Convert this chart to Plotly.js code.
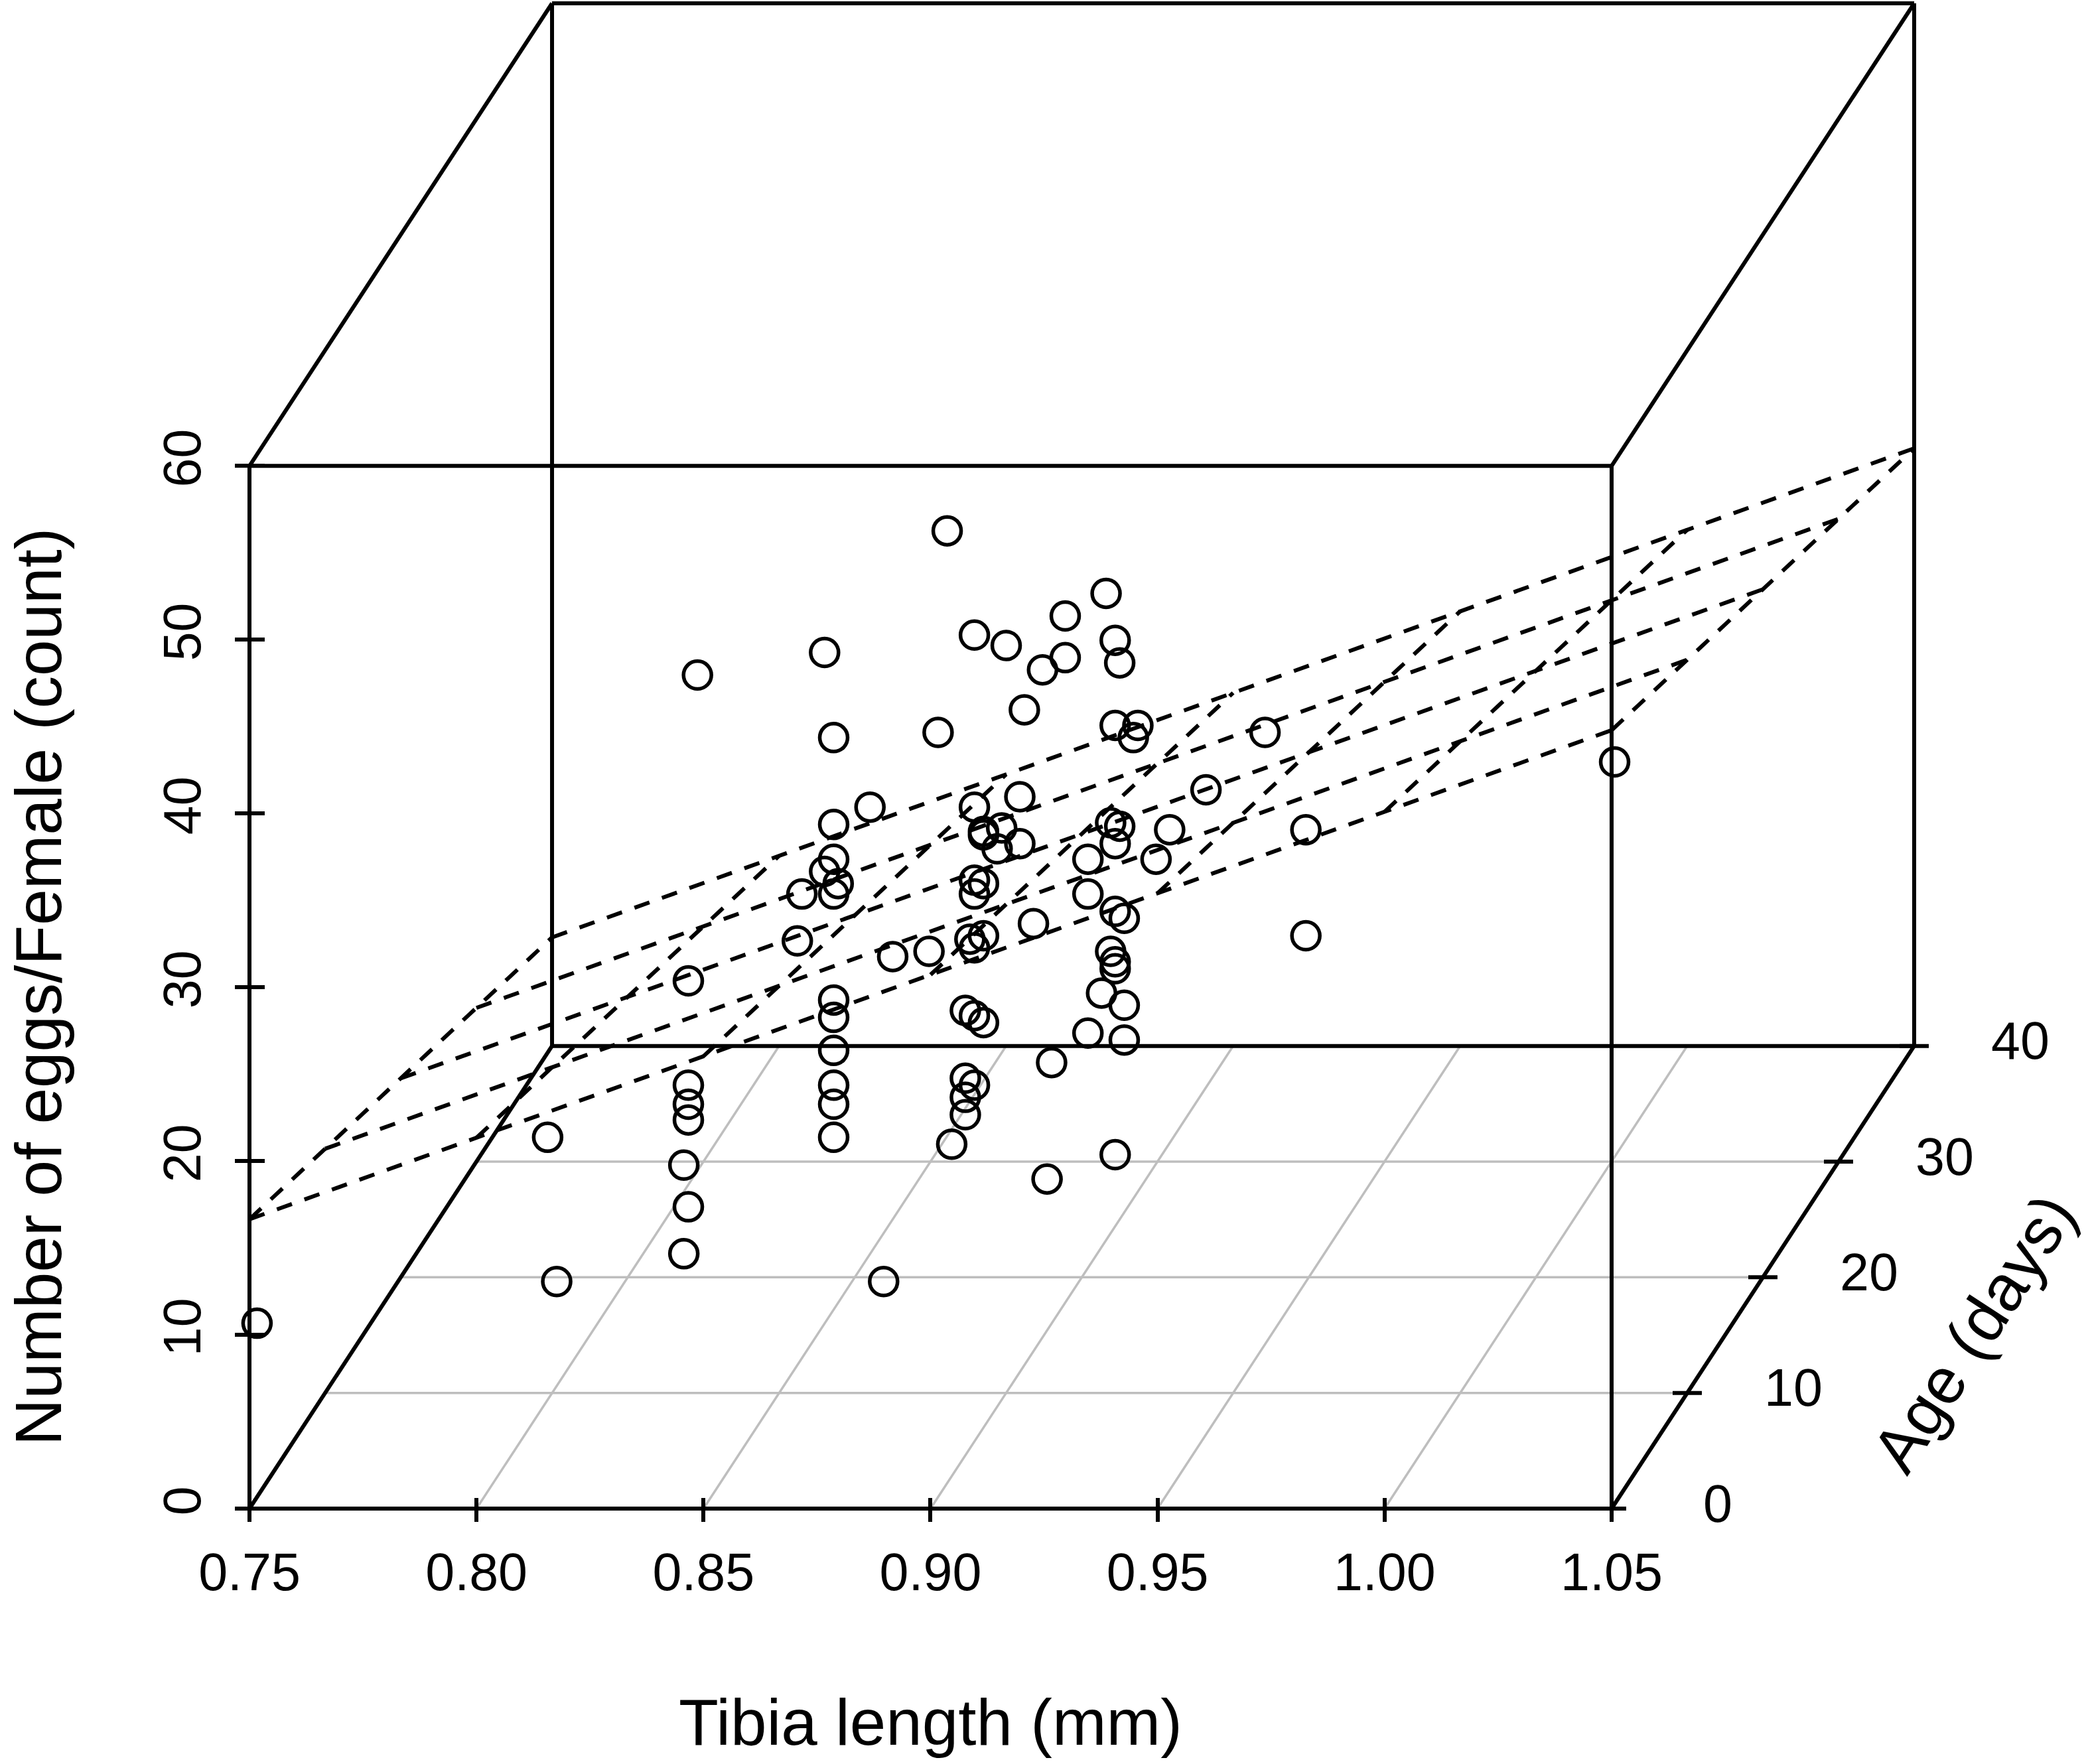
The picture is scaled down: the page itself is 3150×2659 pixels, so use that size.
<!DOCTYPE html>
<html>
<head>
<meta charset="utf-8">
<script src="https://cdn.plot.ly/plotly-3.0.1.min.js"></script>
<style>
html, body { margin: 0; padding: 0; background: #fff; }
#eggs-3d-viz { width: 3150px; height: 2659px; }
</style>
</head>
<body>
<div id="eggs-3d-viz"></div>
<script>
// Tibia length (mm) of each female
var tibia = [
	0.902, 0.937, 0.928, 0.908, 0.939, 0.915, 0.875, 0.928, 0.923, 0.940,
	0.847, 0.919, 0.939, 0.944, 0.943, 0.900, 0.877, 0.972, 1.049, 0.959,
	0.918, 0.885, 0.908, 0.877, 0.938, 0.940, 0.951, 0.981, 0.910, 0.914,
	0.918, 0.913, 0.910, 0.939, 0.933, 0.948, 0.877, 0.875, 0.878, 0.870,
	0.877, 0.908, 0.910, 0.908, 0.933, 0.939, 0.941, 0.921, 0.869, 0.910,
	0.907, 0.908, 0.898, 0.890, 0.938, 0.939, 0.939, 0.981, 0.845, 0.936,
	0.941, 0.877, 0.906, 0.908, 0.910, 0.877, 0.933, 0.941, 0.877, 0.925,
	0.906, 0.908, 0.845, 0.845, 0.845, 0.877, 0.877, 0.906, 0.906, 0.877,
	0.814, 0.903, 0.939, 0.844, 0.924, 0.845, 0.844, 0.816, 0.888, 0.750
];
// Age (days) of each female
var age = [
	1, 1, 1, 1, 1, 1, 1, 1, 1, 1,
	1, 1, 1, 1, 1, 1, 1, 1, 1, 1,
	1, 1, 1, 1, 1, 1, 1, 1, 1, 1,
	1, 1, 1, 1, 1, 1, 1, 1, 1, 1,
	1, 1, 1, 1, 1, 1, 1, 1, 1, 1,
	1, 1, 1, 1, 1, 1, 1, 1, 1, 1,
	1, 1, 1, 1, 1, 1, 1, 1, 1, 1,
	1, 1, 1, 1, 1, 1, 1, 1, 1, 1,
	1, 1, 1, 1, 1, 1, 1, 1, 1, 1
];
// Number of eggs per female
var eggs = [
	55.6, 52.0, 50.7, 49.6, 49.3, 49.0, 48.6, 48.3, 47.6, 48.0,
	47.3, 45.3, 44.4, 44.4, 43.7, 44.0, 43.7, 44.0, 42.3, 40.7,
	40.3, 39.7, 39.7, 38.7, 38.8, 38.6, 38.4, 38.4, 38.3, 38.5,
	37.6, 37.3, 38.1, 37.6, 36.7, 36.7, 36.7, 36.0, 35.3, 34.7,
	34.7, 35.5, 35.3, 34.7, 34.7, 33.7, 33.3, 33.0, 32.0, 32.3,
	32.1, 31.6, 31.4, 31.1, 31.4, 30.8, 30.4, 32.3, 29.7, 29.0,
	28.3, 28.6, 28.0, 27.7, 27.3, 27.6, 26.7, 26.3, 25.7, 25.0,
	24.1, 23.7, 23.7, 22.6, 21.7, 23.7, 22.6, 23.0, 22.0, 20.7,
	20.7, 20.3, 19.7, 19.1, 18.3, 16.7, 14.0, 12.4, 12.4, 10.0
];

var tibiaTicks = [0.75, 0.80, 0.85, 0.90, 0.95, 1.00, 1.05];
var ageTicks   = [0, 10, 20, 30, 40];
var eggTicks   = [0, 10, 20, 30, 40, 50, 60];

// regression plane: eggs = b0 + b1*tibia + b2*age
var planeCoef = [-53.7, 93.8, -0.26];

// page and oblique view of the box (like R scatterplot3d)
var W = 3150, H = 2659;
var PX_X = 6843;          // px per mm of tibia
var PX_Z = 26.2;          // px per egg
var SHIFT_X = 0.001666;   // sideways shift per day of age (tibia units)
var SHIFT_Z = 0.6655;     // upward shift per day of age (egg units)
var ORIGIN = [376, 2274]; // px of the front/bottom/left corner
var FONT = 'Liberation Sans, Arial, Helvetica, sans-serif';
var LW = 6;               // black line width

function proj(t, a, e) {
	return [t + a * SHIFT_X, e + a * SHIFT_Z];
}

function plane(t, a) {
	return planeCoef[0] + planeCoef[1] * t + planeCoef[2] * a;
}

// push one segment (3d ends) into a path object, broken by nulls
function addSeg(path, p, q) {
	var a = proj(p[0], p[1], p[2]), b = proj(q[0], q[1], q[2]);
	path.x.push(a[0], b[0], null);
	path.y.push(a[1], b[1], null);
}

function draw_eggs_viz(div_id) {
	var xr = [tibiaTicks[0], tibiaTicks[tibiaTicks.length - 1]];
	var ar = [ageTicks[0], ageTicks[ageTicks.length - 1]];
	var er = [eggTicks[0], eggTicks[eggTicks.length - 1]];

	// floor grid
	var grid = { x: [], y: [] };
	tibiaTicks.slice(1, -1).forEach(function(t) { addSeg(grid, [t, ar[0], er[0]], [t, ar[1], er[0]]); });
	ageTicks.slice(1, -1).forEach(function(a) { addSeg(grid, [xr[0], a, er[0]], [xr[1], a, er[0]]); });

	// box: all 12 edges
	var box = { x: [], y: [] };
	[ar[0], ar[1]].forEach(function(a) {
		addSeg(box, [xr[0], a, er[0]], [xr[1], a, er[0]]);
		addSeg(box, [xr[0], a, er[1]], [xr[1], a, er[1]]);
		addSeg(box, [xr[0], a, er[0]], [xr[0], a, er[1]]);
		addSeg(box, [xr[1], a, er[0]], [xr[1], a, er[1]]);
	});
	[xr[0], xr[1]].forEach(function(t) {
		addSeg(box, [t, ar[0], er[0]], [t, ar[1], er[0]]);
		addSeg(box, [t, ar[0], er[1]], [t, ar[1], er[1]]);
	});

	// age axis ticks straddle the right floor edge
	var tickHalf = 22 / PX_X;
	var ageTk = { x: [], y: [] };
	ageTicks.forEach(function(a) {
		var p = proj(xr[1], a, er[0]);
		ageTk.x.push(p[0] - tickHalf, p[0] + tickHalf, null);
		ageTk.y.push(p[1], p[1], null);
	});

	// regression plane grid
	var pl = { x: [], y: [] };
	tibiaTicks.forEach(function(t) { addSeg(pl, [t, ar[0], plane(t, ar[0])], [t, ar[1], plane(t, ar[1])]); });
	ageTicks.forEach(function(a) { addSeg(pl, [xr[0], a, plane(xr[0], a)], [xr[1], a, plane(xr[1], a)]); });

	// points
	var px = [], py = [];
	for (var i = 0; i < tibia.length; i++) {
		var q = proj(tibia[i], age[i], eggs[i]);
		px.push(q[0]);
		py.push(q[1]);
	}

	var trace_grid = { x: grid.x, y: grid.y, type: 'scatter', mode: 'lines', hoverinfo: 'skip',
		line: { color: '#bebebe', width: 3.5 } };
	var trace_box = { x: box.x, y: box.y, type: 'scatter', mode: 'lines', hoverinfo: 'skip',
		line: { color: 'black', width: LW } };
	var trace_agetk = { x: ageTk.x, y: ageTk.y, type: 'scatter', mode: 'lines', hoverinfo: 'skip',
		line: { color: 'black', width: LW } };
	var trace_plane = { x: pl.x, y: pl.y, type: 'scatter', mode: 'lines', hoverinfo: 'skip',
		line: { color: 'black', width: LW, dash: '24px,20px' } };
	var trace_pts = { x: px, y: py, type: 'scatter', mode: 'markers', hoverinfo: 'none',
		cliponaxis: false,
		marker: { symbol: 'circle-open', size: 42, color: 'black', line: { color: 'black', width: 5.5 } } };
	// dummy trace so the overlay axes (inner half of the ticks) get drawn
	var trace_dummy = { x: [null], y: [null], type: 'scatter', mode: 'markers', xaxis: 'x2', yaxis: 'y2', hoverinfo: 'skip' };

	// plot area so that the front corner sits at ORIGIN
	var padL = 30, padR = 30, padB = 30, padT = 4;
	var xMin = xr[0] - padL / PX_X, xMax = xr[1] + ar[1] * SHIFT_X + padR / PX_X;
	var yMin = er[0] - padB / PX_Z, yMax = er[1] + ar[1] * SHIFT_Z + padT / PX_Z;
	var mL = ORIGIN[0] - padL, mB = H - ORIGIN[1] - padB;
	var mR = W - mL - (xMax - xMin) * PX_X;
	var mT = H - mB - (yMax - yMin) * PX_Z;
	var xPos = (er[0] - yMin) / (yMax - yMin);
	var yPos = (xr[0] - xMin) / (xMax - xMin);

	var baseAxis = { showgrid: false, zeroline: false, showline: false, tickcolor: 'black', tickwidth: LW,
		anchor: 'free', fixedrange: true };

	var xaxis = Object.assign({}, baseAxis, {
		range: [xMin, xMax], position: xPos, tickmode: 'array', tickvals: tibiaTicks,
		ticktext: tibiaTicks.map(function(v) { return v.toFixed(2); }),
		ticks: 'outside', ticklen: 19, ticklabelstandoff: 8,
		tickfont: { family: FONT, size: 79, color: 'black' }
	});
	var yaxis = Object.assign({}, baseAxis, {
		range: [yMin, yMax], position: yPos, tickmode: 'array', tickvals: eggTicks,
		ticks: 'outside', ticklen: 22, tickangle: -90, ticklabelstandoff: 20,
		tickfont: { family: FONT, size: 79, color: 'black' }
	});
	var xaxis2 = Object.assign({}, baseAxis, {
		overlaying: 'x', range: [xMin, xMax], position: xPos, tickmode: 'array', tickvals: tibiaTicks,
		ticks: 'inside', ticklen: 16, showticklabels: false
	});
	var yaxis2 = Object.assign({}, baseAxis, {
		overlaying: 'y', range: [yMin, yMax], position: yPos, tickmode: 'array', tickvals: eggTicks,
		ticks: 'inside', ticklen: 22, showticklabels: false
	});

	var annotations = [];
	ageTicks.forEach(function(a) {
		var p = proj(xr[1], a, er[0]);
		annotations.push({ x: p[0], y: p[1], xref: 'x', yref: 'y', text: String(a), showarrow: false,
			xshift: 160, yshift: 8, xanchor: 'center', yanchor: 'middle',
			font: { family: FONT, size: 79, color: 'black' } });
	});
	var ageMid = proj(xr[1], (ar[0] + ar[1]) / 2, er[0]);
	annotations.push({ x: ageMid[0], y: ageMid[1], xref: 'x', yref: 'y', text: 'Age (days)', showarrow: false,
		xshift: 318, yshift: -84, textangle: -57, xanchor: 'center', yanchor: 'middle',
		font: { family: FONT, size: 98, color: 'black' } });
	annotations.push({ x: (xr[0] + xr[1]) / 2, y: er[0], xref: 'x', yref: 'y', text: 'Tibia length (mm)',
		showarrow: false, yshift: -322, xanchor: 'center', yanchor: 'middle',
		font: { family: FONT, size: 98, color: 'black' } });
	annotations.push({ x: xr[0], y: (er[0] + er[1]) / 2, xref: 'x', yref: 'y', text: 'Number of eggs/Female (count)',
		showarrow: false, xshift: -318, textangle: -90, xanchor: 'center', yanchor: 'middle',
		font: { family: FONT, size: 98, color: 'black' } });

	var layout = {
		width: W, height: H,
		margin: { l: mL, r: mR, t: mT, b: mB, pad: 0, autoexpand: false },
		paper_bgcolor: 'white', plot_bgcolor: 'white',
		showlegend: false,
		xaxis: xaxis, yaxis: yaxis, xaxis2: xaxis2, yaxis2: yaxis2,
		annotations: annotations
	};

	var data = [trace_grid, trace_box, trace_agetk, trace_plane, trace_pts, trace_dummy];
	Plotly.newPlot(div_id, data, layout, { displayModeBar: false, staticPlot: true });
} // draw_eggs_viz

draw_eggs_viz('eggs-3d-viz');
</script>
</body>
</html>
